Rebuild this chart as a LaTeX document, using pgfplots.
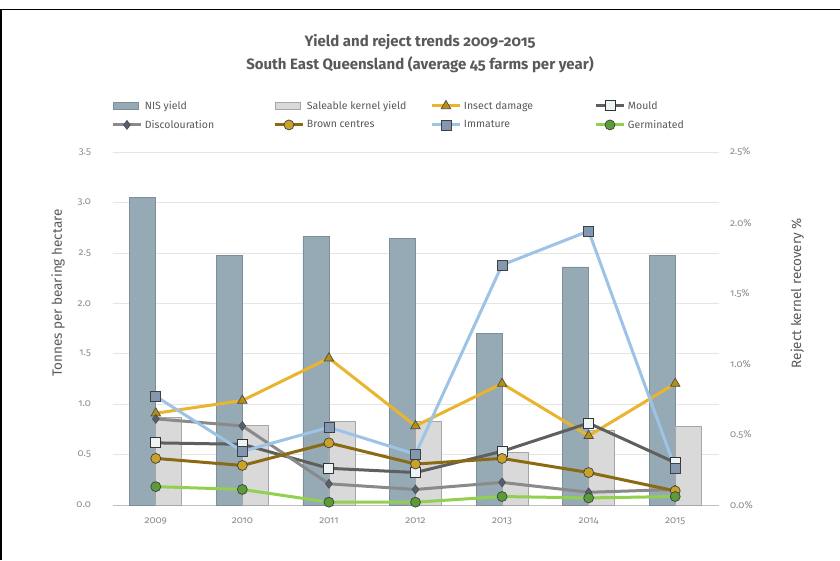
\documentclass[border=0pt]{standalone}
\usepackage{pgfplots}
\pgfplotsset{compat=1.18}
\usepackage{fontspec}
\setmainfont{Fira Sans}[Numbers=OldStyle]
\definecolor{nis}{HTML}{95AAB5}
\definecolor{nisedge}{HTML}{7E8F99}
\definecolor{sal}{HTML}{D9D9D9}
\definecolor{saledge}{HTML}{A6A6A6}
\definecolor{insect}{HTML}{E8B52C}
\definecolor{insectmk}{HTML}{B8900F}
\definecolor{mould}{HTML}{5F5F5F}
\definecolor{mouldmk}{HTML}{EEF3F5}
\definecolor{disc}{HTML}{8A8A8A}
\definecolor{discmk}{HTML}{55606E}
\definecolor{brown}{HTML}{8A6A12}
\definecolor{brownmk}{HTML}{C9A227}
\definecolor{immat}{HTML}{9DC3E6}
\definecolor{immatmk}{HTML}{8497B0}
\definecolor{germ}{HTML}{92D050}
\definecolor{germmk}{HTML}{5B9B3A}
\definecolor{txt}{HTML}{595959}
\definecolor{ticktxt}{HTML}{8C8C8C}

\pgfplotstableread{
x nis sal
0 3.05 0.87
1 2.47 0.79
2 2.66 0.83
3 2.64 0.83
4 1.70 0.52
5 2.36 0.74
6 2.47 0.78
}\yields

\pgfplotstableread{
x insect mould disc brown immat germ
0 0.65 0.44 0.61 0.33 0.77 0.13
1 0.74 0.43 0.56 0.28 0.38 0.11
2 1.04 0.26 0.15 0.44 0.55 0.02
3 0.56 0.23 0.11 0.29 0.36 0.02
4 0.86 0.38 0.16 0.33 1.70 0.06
5 0.49 0.58 0.09 0.23 1.94 0.05
6 0.86 0.30 0.11 0.10 0.26 0.06
}\rejects

\pgfplotsset{
  base/.style={
    at={(112.5pt,55pt)}, anchor=south west,
    scale only axis, width=606pt, height=353pt,
    xmin=-0.5, xmax=6.5,
    /pgf/number format/assume math mode=true,
    tick style={draw=none},
    ticklabel style={font=\fontsize{10}{11}\selectfont, text=ticktxt},
  },
  linelegend/.style={legend image code/.code={
    \path (0pt,-6pt) (29pt,6pt);
    \draw[mark repeat=2,mark phase=2,##1] plot coordinates {(0pt,0pt) (14pt,0pt) (28pt,0pt)};}},
  barlegend/.style={legend image code/.code={
    \path (0pt,-6pt) (29pt,6pt);
    \draw[##1] (0pt,-3.5pt) rectangle (25pt,3.5pt);}},
}
\newcommand{\legbox}[2]{\makebox[#1][l]{#2}}

\begin{document}
\begin{tikzpicture}[x=1pt,y=1pt]
\useasboundingbox (0,0) rectangle (840,560);
\fill[white] (0,0) rectangle (840,560);

\begin{axis}[base,
  ymin=0, ymax=3.5,
  axis lines*=left,
  y axis line style={draw=none},
  x axis line style={draw=black!25, line width=0.8pt},
  xtick={0,...,6},
  xticklabels={2009,2010,2011,2012,2013,2014,2015},
  xticklabel style={yshift=-9pt},
  ytick={0,0.5,1,1.5,2,2.5,3,3.5},
  yticklabel style={/pgf/number format/fixed, /pgf/number format/fixed zerofill, /pgf/number format/precision=1, xshift=-18pt},
  ymajorgrids, grid style={draw=black!10, line width=0.6pt},
  ylabel={Tonnes per bearing hectare},
  ylabel style={at={(axis description cs:-0.09,0.6)}, anchor=center, font=\fontsize{13.5}{15}\selectfont, text=txt},
]
\addplot[ybar, bar width=0.3, bar shift=-0.15, fill=nis, draw=nisedge, line width=0.8pt] table[x=x, y=nis] {\yields};
\addplot[ybar, bar width=0.3, bar shift=0.15, fill=sal, draw=saledge, line width=0.8pt] table[x=x, y=sal] {\yields};
\end{axis}

\begin{axis}[base,
  ymin=0, ymax=2.5,
  axis x line=none,
  axis y line*=right,
  y axis line style={draw=none},
  xtick=\empty,
  ytick={0,0.5,1,1.5,2,2.5},
  yticklabel={\pgfmathprintnumber[fixed, fixed zerofill, precision=1]{\tick}\%},
  yticklabel style={xshift=8pt},
  ylabel={Reject kernel recovery \%},
  ylabel style={at={(axis description cs:1.13,0.6)}, anchor=center, font=\fontsize{13.5}{15}\selectfont, text=txt},
  legend columns=4,
  legend cell align=left,
  legend style={at={(axis description cs:-0.007,1.158)}, anchor=north west, draw=none, fill=none,
    font=\fontsize{10.5}{12}\selectfont, text=txt,
    nodes={inner sep=1.5pt},
    column sep=0pt, row sep=4pt},
  every axis plot/.append style={line width=3pt, linelegend},
]
\addlegendimage{barlegend, fill=nis, draw=nisedge, line width=0.8pt}
\addlegendentry{\legbox{127pt}{NIS yield}}
\addlegendimage{barlegend, fill=sal, draw=saledge, line width=0.8pt}
\addlegendentry{\legbox{122pt}{Saleable kernel yield}}
\addplot[color=insect, mark=triangle*, mark size=5.5pt, mark options={fill=insectmk, draw=black!70, line width=0.7pt}] table[x=x, y=insect] {\rejects};
\addlegendentry{\legbox{129pt}{Insect damage}}
\addplot[color=mould, mark=square*, mark size=5pt, mark options={fill=mouldmk, draw=black!80, line width=0.9pt}] table[x=x, y=mould] {\rejects};
\addlegendentry{Mould}
\addplot[color=disc, mark=diamond*, mark size=4.5pt, mark options={fill=discmk, draw=black!70, line width=0.6pt}] table[x=x, y=disc] {\rejects};
\addlegendentry{\legbox{127pt}{Discolouration}}
\addplot[color=brown, mark=*, mark size=5pt, mark options={fill=brownmk, draw=black!75, line width=0.7pt}] table[x=x, y=brown] {\rejects};
\addlegendentry{\legbox{122pt}{Brown centres}}
\addplot[color=immat, mark=square*, mark size=5pt, mark options={fill=immatmk, draw=black!75, line width=0.7pt}] table[x=x, y=immat] {\rejects};
\addlegendentry{\legbox{129pt}{Immature}}
\addplot[color=germ, mark=*, mark size=5pt, mark options={fill=germmk, draw=black!75, line width=0.7pt}] table[x=x, y=germ] {\rejects};
\addlegendentry{Germinated}
\end{axis}

\node[font=\bfseries\fontsize{15}{17}\selectfont, text=txt] at (420,518) {Yield and reject trends 2009-2015};
\node[font=\bfseries\fontsize{15}{17}\selectfont, text=txt] at (420,495) {South East Queensland (average 45 farms per year)};
\draw[black, line width=1.5pt] (1,0) -- (1,550.5) -- (840,550.5);
\end{tikzpicture}
\end{document}
